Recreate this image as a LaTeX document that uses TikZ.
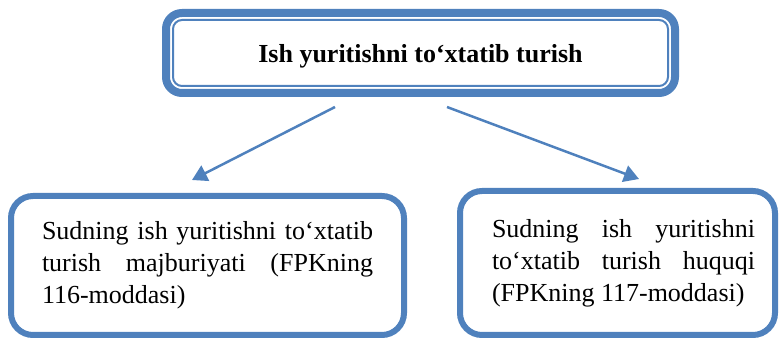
\documentclass[tikz,border=0pt]{standalone}
\usepackage{fontspec}
\setmainfont{Liberation Serif}
\usetikzlibrary{arrows.meta}
\definecolor{boxblue}{HTML}{4F81BD}
\tikzset{
  headbox/.style={draw=boxblue, line width=8pt, rounded corners=16pt, minimum width=509pt, minimum height=80pt, text height=26pt, text depth=6pt, font=\fontsize{26}{32}\selectfont\bfseries},
  casebox/.style={draw=boxblue, line width=6pt, rounded corners=22pt, align=justify, font=\fontsize{26}{32}\selectfont, inner ysep=0pt},
  link/.style={boxblue, line width=2.5pt, -{Triangle[length=15pt,width=17pt]}}
}
\begin{document}
\begin{tikzpicture}[x=1pt,y=-1pt]
\useasboundingbox (0,0) rectangle (780,339);
% main box with double frame
\node[headbox] (head) at (420.5,53) {Ish yuritishni to‘xtatib turish};
\draw[boxblue, line width=2pt, rounded corners=9pt] ([shift={(11pt,-11pt)}]head.north west) rectangle ([shift={(-11pt,11pt)}]head.south east);
% the two cases
\node[casebox, text width=331pt, inner xsep=31pt, minimum height=139pt] (lbox) at (207.5,265.5) {Sudning ish yuritishni to‘xtatib\linebreak turish majburiyati (FPKning\linebreak 116-moddasi)};
\node[casebox, text width=275pt, inner xsep=20pt, minimum height=144pt] (rbox) at (617.5,263) {\hspace*{12pt}\parbox{263pt}{\leftskip0pt\rightskip0pt\parfillskip0pt plus1fil\spaceskip0pt\xspaceskip0pt Sudning ish yuritishni\linebreak to‘xtatib turish huquqi\linebreak (FPKning 117-moddasi)}};
\draw[link] ([xshift=-85.5pt,yshift=-10pt]head.south) -- ([xshift=-15.5pt,yshift=13pt]lbox.north);
\draw[link] ([xshift=26.5pt,yshift=-10pt]head.south) -- ([xshift=21.5pt,yshift=9pt]rbox.north);
\end{tikzpicture}
\end{document}
